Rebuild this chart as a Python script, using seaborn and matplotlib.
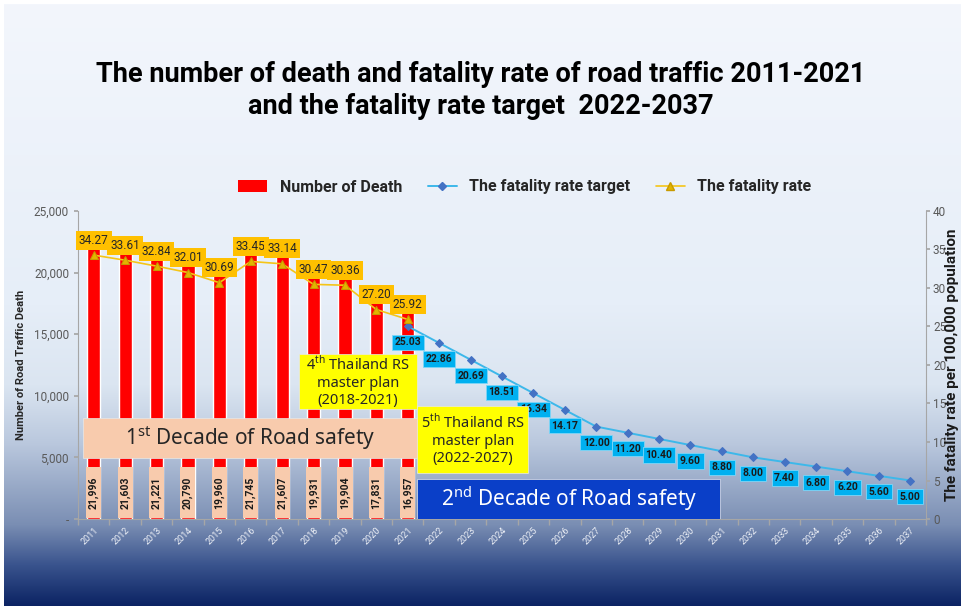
import numpy as np
import pandas as pd
import matplotlib.pyplot as plt
import seaborn as sns
from matplotlib.patches import Rectangle
from matplotlib.lines import Line2D
from matplotlib.ticker import FuncFormatter, MultipleLocator

sns.set_theme(style="white")
plt.rcParams["font.family"] = ["Roboto", "DejaVu Sans"]
plt.rcParams["mathtext.fontset"] = "custom"
plt.rcParams["mathtext.rm"] = "Noto Sans"

# ========== 数据 ==========
years = [str(y) for y in range(2011, 2038)]
death_years = years[:11]
deaths = [21996, 21603, 21221, 20790, 19960, 21745, 21607, 19931, 19904, 17831, 16957]
rate = [34.27, 33.61, 32.84, 32.01, 30.69, 33.45, 33.14, 30.47, 30.36, 27.20, 25.92]
target_years = years[10:]
target = [25.03, 22.86, 20.69, 18.51, 16.34, 14.17, 12.00, 11.20, 10.40, 9.60,
          8.80, 8.00, 7.40, 6.80, 6.20, 5.60, 5.00]

df_death = pd.DataFrame({"year": death_years, "deaths": deaths})
df_rate = pd.DataFrame({"pos": [years.index(y) for y in death_years], "rate": rate})
df_target = pd.DataFrame({"pos": [years.index(y) for y in target_years], "target": target})

C_RED = "#ff0000"
C_GOLD = "#ffc000"
C_SKY = "#00b0f0"
C_PEACH = "#f8cbad"
C_YELLOW = "#ffff00"
C_BLUE = "#0a3fc8"

fig = plt.figure(figsize=(9.61, 6.06), dpi=100)
fig.patch.set_facecolor("white")

# ========== 背景渐变 ==========
bg = fig.add_axes([4 / 961, 0, 957 / 961, 602 / 606], zorder=-10)
stops_px = [0, 300, 380, 440, 520, 560, 602]
stops_rgb = np.array([
    [0xf3, 0xf6, 0xfc], [0xe6, 0xee, 0xf8], [0xdb, 0xe5, 0xf1],
    [0xb9, 0xc7, 0xdd], [0x7a, 0x8e, 0xb3], [0x3a, 0x54, 0x8e], [0x0a, 0x22, 0x62],
]) / 255.0
rows = np.arange(602)
grad = np.stack([np.interp(rows, stops_px, stops_rgb[:, c]) for c in range(3)], axis=1)
bg.imshow(grad[:, None, :], aspect="auto", extent=[0, 1, 0, 1])
bg.axis("off")

# ========== 主图 ==========
ax = fig.add_axes([78 / 961, 1 - 519 / 606, 848 / 961, 308 / 606])
ax.patch.set_alpha(0)
sns.barplot(data=df_death, x="year", y="deaths", order=years, color=C_RED,
            saturation=1, width=0.42, ax=ax)
ax.set_ylim(0, 25000)
ax.set_xlim(-0.5, len(years) - 0.5)
ax.yaxis.set_major_locator(MultipleLocator(5000))
ax.yaxis.set_major_formatter(FuncFormatter(lambda v, p: "-" if v == 0 else f"{int(v):,}"))
ax.tick_params(axis="y", labelsize=8.5, labelcolor="#595959", length=3, color="#a6a6a6", left=True)
ax.tick_params(axis="x", labelsize=6.5, labelcolor="#eef1f7", length=0, pad=5)
for lab in ax.get_xticklabels():
    lab.set_rotation(45)
    lab.set_ha("right")
    lab.set_rotation_mode("anchor")
ax.set_xticks(np.arange(-0.5, len(years), 1), minor=True)
ax.tick_params(axis="x", which="minor", bottom=True, length=4, color="#a6a6a6")
ax.set_xlabel("")
ax.set_ylabel("Number of Road Traffic Death", fontsize=8, fontweight="bold", color="#262626", labelpad=6)
for s in ["top", "right"]:
    ax.spines[s].set_visible(False)
for s in ["left", "bottom"]:
    ax.spines[s].set_color("#a6a6a6")
    ax.spines[s].set_linewidth(0.8)

# 柱子数值标签
for i, v in enumerate(deaths):
    ax.add_patch(Rectangle((i - 0.24, 80), 0.48, 4150, facecolor=C_PEACH, edgecolor="none", zorder=3))
    ax.text(i, 2150, f"{v:,}", rotation=90, ha="center", va="center", fontsize=7.5,
            fontweight="bold", color="#1a1a1a", zorder=4)

# ========== 次坐标轴 ==========
ax2 = ax.twinx()
sns.lineplot(data=df_target, x="pos", y="target", color="#3db8ea", linewidth=1.4,
             marker="D", markersize=4, markerfacecolor="#4472c4", markeredgecolor="#4472c4", ax=ax2)
sns.lineplot(data=df_rate, x="pos", y="rate", color="#f5c518", linewidth=1.2,
             marker="^", markersize=6, markerfacecolor="#e2b400", markeredgecolor="#c89a00", ax=ax2)
ax2.set_ylim(0, 40)
ax2.set_xlim(-0.5, len(years) - 0.5)
ax2.yaxis.set_major_locator(MultipleLocator(5))
ax2.tick_params(axis="y", labelsize=8.5, labelcolor="#595959", length=3, color="#a6a6a6",
                right=True, pad=2)
ax2.set_ylabel("")
ax2.set_xlabel("")
for s in ["top", "left", "bottom"]:
    ax2.spines[s].set_visible(False)
ax2.spines["right"].set_color("#a6a6a6")
ax2.spines["right"].set_linewidth(0.8)

for x, v in zip(df_rate["pos"], rate):
    ax2.annotate(f"{v:.2f}", (x, v), xytext=(0, 15), textcoords="offset pixels",
                 ha="center", va="center", fontsize=8.5, color="#262626", zorder=6,
                 bbox=dict(boxstyle="square,pad=0.25", facecolor=C_GOLD, edgecolor="none"))
for x, v in zip(df_target["pos"], target):
    ax2.annotate(f"{v:.2f}", (x, v), xytext=(0, -16), textcoords="offset pixels",
                 ha="center", va="center", fontsize=7.5, fontweight="bold", color="#1a1a1a", zorder=5,
                 bbox=dict(boxstyle="square,pad=0.25", facecolor=C_SKY, edgecolor="#7fd6f7", linewidth=0.6))

# ========== 说明框 ==========
boxes = [
    (-0.34, 4950, 10.67, 3250, C_PEACH, "1$^{\\rm st}$ Decade of Road safety", "#262626", 15),
    (6.54, 8930, 3.76, 4460, C_YELLOW, "4$^{\\rm th}$ Thailand RS\nmaster plan\n(2018-2021)", "#262626", 10.5),
    (10.3, 3730, 3.53, 5440, C_YELLOW, "5$^{\\rm th}$ Thailand RS\nmaster plan\n(2022-2027)", "#262626", 10.5),
    (10.3, 0, 9.65, 3250, C_BLUE, "2$^{\\rm nd}$ Decade of Road safety", "white", 15),
]
for x0, y0, w, h, fc, txt, tc, fs in boxes:
    ax2.add_patch(Rectangle((x0, y0), w, h, facecolor=fc, edgecolor="#e8e8e8", linewidth=0.5,
                            transform=ax.transData, zorder=8))
    ax2.text(x0 + w / 2, y0 + h / 2, txt, ha="center", va="center", fontsize=fs,
             family="Noto Sans", color=tc, transform=ax.transData, zorder=9, linespacing=1.2)
ax2.set_ylim(0, 40)
ax2.set_xlim(-0.5, len(years) - 0.5)

# ========== 标题 / 图例 ==========
fig.text(0.5, 1 - 75 / 606, "The number of death and fatality rate of road traffic 2011-2021",
         ha="center", va="center", fontsize=19.5, fontweight="bold", color="black")
fig.text(0.5, 1 - 106 / 606, "and the fatality rate target  2022-2037",
         ha="center", va="center", fontsize=19.5, fontweight="bold", color="black")

handles = [
    Rectangle((0, 0), 1, 1, facecolor=C_RED, edgecolor="none"),
    Line2D([], [], color="#3db8ea", marker="D", markersize=4, markerfacecolor="#4472c4",
           markeredgecolor="#4472c4", linewidth=1.4),
    Line2D([], [], color="#f5c518", marker="^", markersize=6, markerfacecolor="#e2b400",
           markeredgecolor="#c89a00", linewidth=1.2),
]
labels = ["Number of Death", "The fatality rate target", "The fatality rate"]
fig.legend(handles, labels, loc="center", bbox_to_anchor=(525 / 961, 1 - 187 / 606), ncol=3,
           frameon=False, prop={"weight": "bold", "size": 11.5}, handlelength=1.8,
           handletextpad=0.8, columnspacing=1.6)

fig.text(952 / 961, 1 - 365 / 606, "The fatality rate per 100,000 population", rotation=90,
         ha="center", va="center", fontsize=11, fontweight="bold", color="#1a1a1a")

plt.savefig("out.png", dpi=100)
